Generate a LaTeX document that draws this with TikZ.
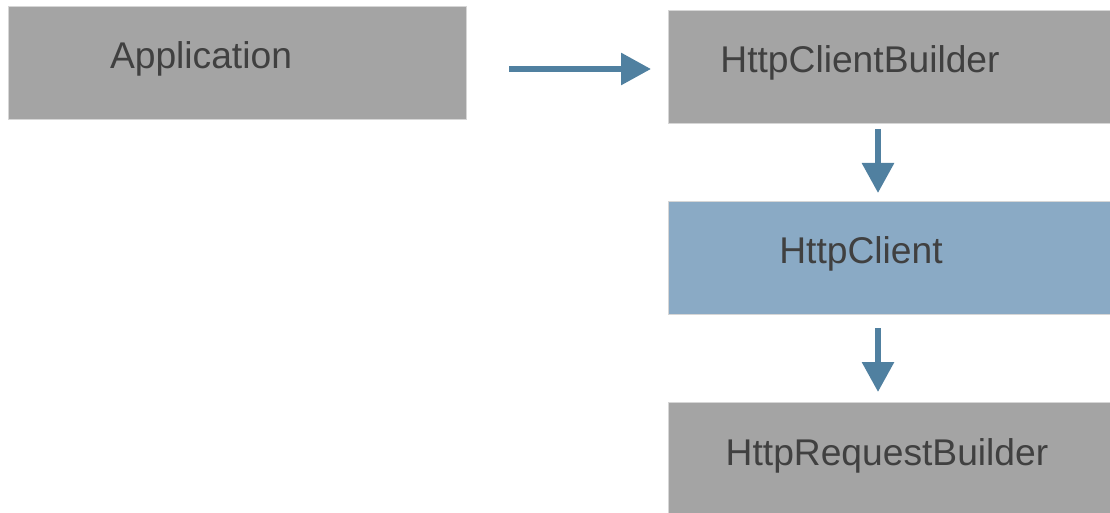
\documentclass[tikz,border=0pt]{standalone}
\usepackage{fontspec}
\setmainfont{Liberation Sans}
\usetikzlibrary{arrows.meta}
\definecolor{boxgray}{HTML}{A4A4A4}
\definecolor{boxblue}{HTML}{8AAAC5}
\definecolor{boxedge}{HTML}{D6D6D6}
\definecolor{arrowblue}{HTML}{5080A0}
\definecolor{txt}{HTML}{404040}
\tikzset{
  box/.style={draw=boxedge, line width=0.9pt, fill=boxgray, inner sep=0pt},
  label text/.style={text=txt, font=\fontsize{37.2}{40}\selectfont, anchor=base, inner sep=0pt},
  conn/.style={draw=arrowblue, line width=6pt, -{Triangle[length=30pt,width=31pt]}},
}
\begin{document}
\begin{tikzpicture}[x=1pt,y=-1pt]
\useasboundingbox (0,0) rectangle (1110,513);
\path[box] (8,6) rectangle (466,119);
\node[label text] (app) at (201,69) {Application};
\coordinate (appE) at (466,69);
\path[box] (668,10) rectangle (1111,123);
\node[label text] (hcb) at (860,73) {HttpClientBuilder};
\coordinate (hcbW) at (668,69);
\coordinate (hcbS) at (878,123);
\path[box, fill=boxblue] (668,201) rectangle (1111,314);
\node[label text] (hc) at (861,263) {HttpClient};
\coordinate (hcN) at (878,201);
\coordinate (hcS) at (878,314);
\path[box] (668,402) rectangle (1111,514);
\node[label text] (hrb) at (887,465) {HttpRequestBuilder};
\coordinate (hrbN) at (878,402);
\draw[conn, shorten <=43pt, shorten >=17pt] (appE) -- (hcbW);
\draw[conn, shorten <=6pt, shorten >=8pt] (hcbS) -- (hcN);
\draw[conn, shorten <=14pt, shorten >=10pt] (hcS) -- (hrbN);
\end{tikzpicture}
\end{document}
